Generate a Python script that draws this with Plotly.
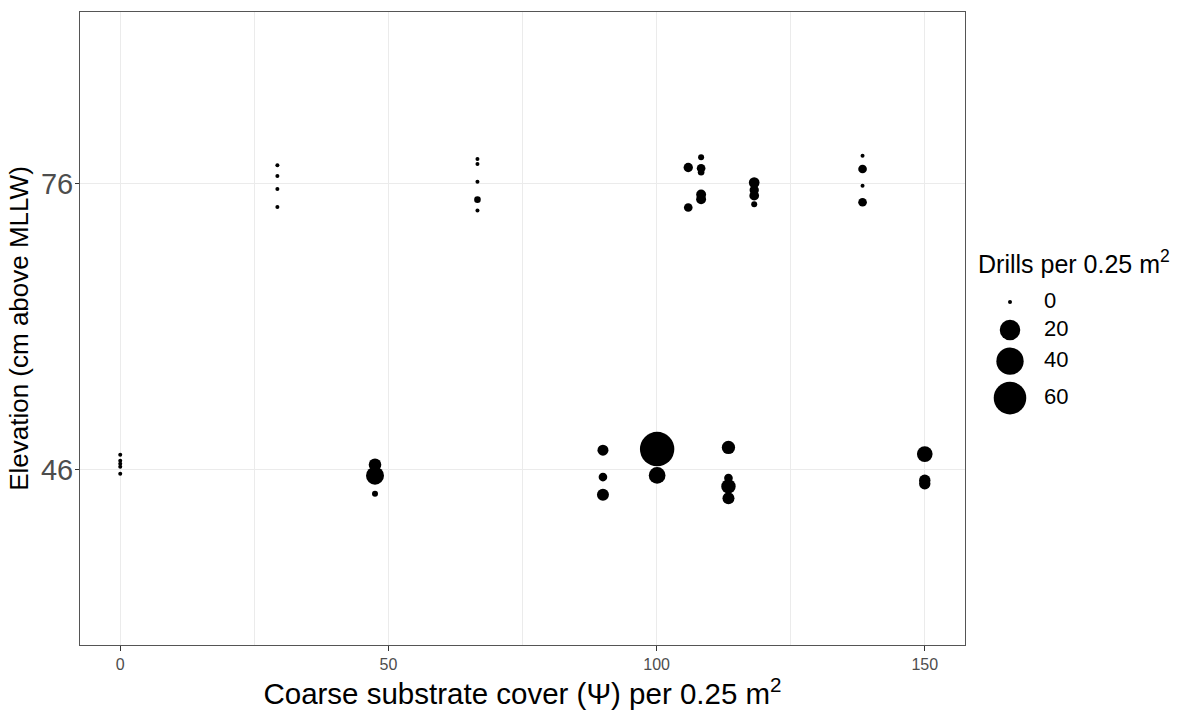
import numpy as np
import plotly.graph_objects as go

# Quadrat observations: coarse substrate cover, elevation (with jitter) and drill density
cover = [
    29.3, 29.3, 29.3, 29.3,
    66.6, 66.6, 66.6, 66.6, 66.6,
    105.9, 105.9,
    108.3, 108.3, 108.3, 108.3, 108.3,
    118.2, 118.2, 118.2, 118.2,
    138.4, 138.4, 138.4, 138.4,
    0.0, 0.0, 0.0, 0.0, 0.0,
    47.5, 47.5, 47.5,
    90.0, 90.0, 90.0,
    100.1, 100.1,
    113.4, 113.4, 113.4, 113.4,
    150.0, 150.0, 150.0,
]
elevation = [
    77.96, 76.84, 75.48, 73.59,
    78.62, 78.10, 76.24, 74.35, 73.20,
    77.73, 73.53,
    78.80, 77.65, 77.23, 74.90, 74.40,
    76.14, 75.37, 74.77, 73.87,
    78.97, 77.57, 75.82, 74.08,
    47.57, 46.94, 46.63, 46.31, 45.58,
    46.52, 45.37, 43.48,
    48.05, 45.23, 43.38,
    48.17, 45.40,
    48.34, 45.13, 44.25, 43.01,
    47.64, 44.89, 44.53,
]
drills = [
    0, 0, 0, 0,
    0, 0, 0, 0.5, 0,
    2.1, 1.6,
    0.3, 1.6, 0.5, 2.6, 2.6,
    3.3, 2.1, 2.4, 0.3,
    0, 1.6, 0, 1.6,
    0, 0, 0, 0, 0,
    5.5, 14.4, 0.3,
    3.6, 1.6, 4.7,
    68, 11.9,
    6.4, 1.6, 8.0, 4.7,
    10.0, 4.0, 4.0,
]

legend_values = [0, 20, 40, 60]
y_breaks = [46, 76]


def point_diameter(v):
    """Area-style size scale: diameter grows with the square root of the count."""
    return 4 + 29.5 * np.sqrt(np.asarray(v, dtype=float) / 64.0)


W, H = 1179, 710
ML, MR, MT, MB = 80, 0, 12, 65
plot_w = W - ML - MR
plot_h = H - MT - MB
panel_right = 965  # px
main_dom = (panel_right - ML) / plot_w

font = "Arial, Liberation Sans, sans-serif"
grid = "#EBEBEB"

fig = go.Figure()

fig.add_trace(go.Scatter(
    x=cover, y=elevation, mode="markers",
    marker=dict(size=point_diameter(drills), color="black", opacity=1,
                line=dict(width=0)),
    xaxis="x", yaxis="y", showlegend=False, hoverinfo="x+y+text",
    text=[f"{d}" for d in drills],
))

# Size key drawn on its own small pixel-unit axes in the right margin
key_d = point_diameter(legend_values)
key_h = np.maximum(28, key_d + 7)
centers = [302.0]
for i in range(1, len(legend_values)):
    centers.append(centers[-1] + (key_h[i - 1] + key_h[i]) / 2)

key_x0, key_x1 = 985, W - MR
key_y0, key_y1 = 280, 430

fig.add_trace(go.Scatter(
    x=[1010] * len(legend_values), y=centers, mode="markers",
    marker=dict(size=key_d, color="black", opacity=1, line=dict(width=0)),
    xaxis="x2", yaxis="y2", showlegend=False, hoverinfo="skip",
))
fig.add_trace(go.Scatter(
    x=[1044] * len(legend_values), y=centers, mode="text",
    text=[str(v) for v in legend_values], textposition="middle right",
    textfont=dict(family=font, size=22, color="black"),
    xaxis="x2", yaxis="y2", showlegend=False, hoverinfo="skip",
))

fig.update_layout(
    width=W, height=H,
    margin=dict(l=ML, r=MR, t=MT, b=MB, autoexpand=False),
    paper_bgcolor="white", plot_bgcolor="white",
    font=dict(family=font, color="black"),
    xaxis=dict(
        domain=[0, main_dom], range=[-7.5, 157.5],
        tickmode="linear", tick0=0, dtick=50,
        showgrid=True, gridcolor=grid, gridwidth=1,
        minor=dict(dtick=25, tick0=0, showgrid=True, gridcolor=grid, gridwidth=0.6, ticks=""),
        zeroline=False,
        ticks="outside", ticklen=5, tickcolor="#333333", tickwidth=1,
        tickfont=dict(family=font, size=16, color="#4D4D4D"),
        showline=True, linecolor="#555555", linewidth=1, mirror=True,
        title=dict(text="Coarse substrate cover (Ψ) per 0.25 m<sup>2</sup>",
                   font=dict(family=font, size=29.5, color="black"), standoff=6),
        anchor="y",
    ),
    yaxis=dict(
        domain=[0, 1], range=[27.6, 94.05],
        tickmode="array", tickvals=y_breaks,
        showgrid=True, gridcolor=grid, gridwidth=1,
        zeroline=False,
        ticks="outside", ticklen=4, tickcolor="#333333", tickwidth=1,
        ticklabelstandoff=-4,
        tickfont=dict(family=font, size=29, color="#4D4D4D"),
        showline=True, linecolor="#555555", linewidth=1, mirror=True,
        title=dict(text="Elevation (cm above MLLW)",
                   font=dict(family=font, size=26, color="black"), standoff=4),
        anchor="x",
    ),
    xaxis2=dict(
        domain=[(key_x0 - ML) / plot_w, 1], range=[key_x0, key_x1],
        visible=False, anchor="y2", fixedrange=True,
    ),
    yaxis2=dict(
        domain=[(H - MB - key_y1) / plot_h, (H - MB - key_y0) / plot_h],
        range=[key_y1, key_y0],
        visible=False, anchor="x2", fixedrange=True,
    ),
    annotations=[dict(
        text="Drills per 0.25 m<sup>2</sup>", xref="paper", yref="paper",
        x=(976 - ML) / plot_w, y=(H - MB - 262) / plot_h,
        xanchor="left", yanchor="middle", showarrow=False,
        font=dict(family=font, size=25, color="black"),
    )],
)

fig.write_html("out.html")
